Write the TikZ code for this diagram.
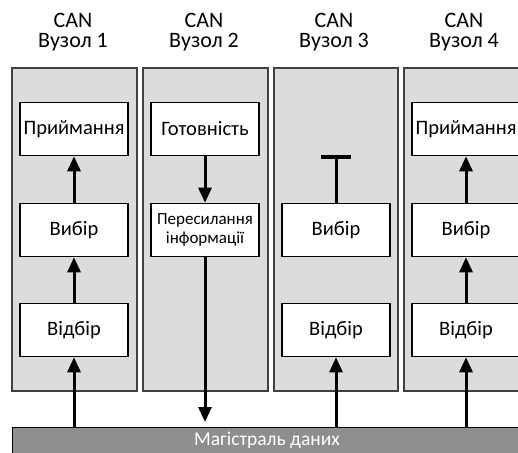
\documentclass[tikz,border=0pt]{standalone}
\usepackage{fontspec}
\setmainfont{Carlito}
\usepackage{xcolor}
\definecolor{Panel Gray}{HTML}{DCDCDC}
\definecolor{Bus Gray}{HTML}{8E8E8E}
\colorlet{cPanel}{Panel Gray}
\colorlet{cBus}{Bus Gray}
\usetikzlibrary{arrows.meta, positioning}
\tikzset{
	x = 1pt,
	y = -1pt,
	line width = 1.4pt,
	panel/.style={
		draw=black!75,
		fill=cPanel,
		line width=1.6pt
	},
	block/.style={
		draw,
		fill=white,
		line width=1.6pt,
		minimum width=108pt,
		minimum height=53pt,
		inner sep=1pt,
		font=\fontsize{20.5}{22}\selectfont
	},
	title/.style={
		align=center,
		font=\fontsize{22}{20}\selectfont
	},
	arr/.style={
		-{Triangle[width=13pt,length=15pt]},
		line width=3pt
	}
}
\begin{document}
\begin{tikzpicture}
		\useasboundingbox (0,0) rectangle (518,452);
		\clip (0,0) rectangle (518,452);

		% panels of the four nodes
		\draw[panel] (12,68) rectangle (137,391);
		\draw[panel] (143,68) rectangle (268,391);
		\draw[panel] (274,68) rectangle (398,391);
		\draw[panel] (404,68) rectangle (530,391);

		% data bus
		\node[fill=cBus, draw=black, line width=1.4pt, minimum width=520pt, minimum height=28pt,
			anchor=north west, inner sep=0pt] (bus) at (12,427) {};
		\node[text=white, font=\fontsize{19.5}{20}\selectfont] at (267,440) {Магістраль даних};

		\node[title] (t1) at (73,32) {CAN\\Вузол 1};
		\node[title] (t2) at (204,32) {CAN\\Вузол 2};
		\node[title] (t3) at (334,32) {CAN\\Вузол 3};
		\node[title] (t4) at (464,32) {CAN\\Вузол 4};

		\node[block] (pryim1) at (74,129) {Приймання};
		\node[block] (vybir1) at (74,230) {Вибір};
		\node[block] (vidbir1) at (74,330) {Відбір};

		\node[block] (gotov2) at (205,129) {Готовність};
		\node[block, align=center, font=\fontsize{17}{19}\selectfont] (peres2) at (205,230) {Пересилання\\інформації};

		\node[block] (vybir3) at (336,230) {Вибір};
		\node[block] (vidbir3) at (336,330) {Відбір};
		\coordinate (stop3) at (336,155);

		\node[block] (pryim4) at (466,129) {Приймання};
		\node[block] (vybir4) at (466,230) {Вибір};
		\node[block] (vidbir4) at (466,330) {Відбір};

		\draw[arr] (bus.north -| vidbir1.south) -- (vidbir1.south);
		\draw[arr] (vidbir1) -- (vybir1);
		\draw[arr] (vybir1) -- (pryim1);

		\draw[arr] (gotov2) -- (peres2);
		\draw[arr, shorten >=5pt] (peres2.south) -- (bus.north -| peres2.south);

		\draw[arr] (bus.north -| vidbir3.south) -- (vidbir3.south);
		\draw[-{Bar[width=30pt,line width=4pt]}, line width=3pt] (vybir3.north) -- (stop3);

		\draw[arr] (bus.north -| vidbir4.south) -- (vidbir4.south);
		\draw[arr] (vidbir4) -- (vybir4);
		\draw[arr] (vybir4) -- (pryim4);
	\end{tikzpicture}
\end{document}
